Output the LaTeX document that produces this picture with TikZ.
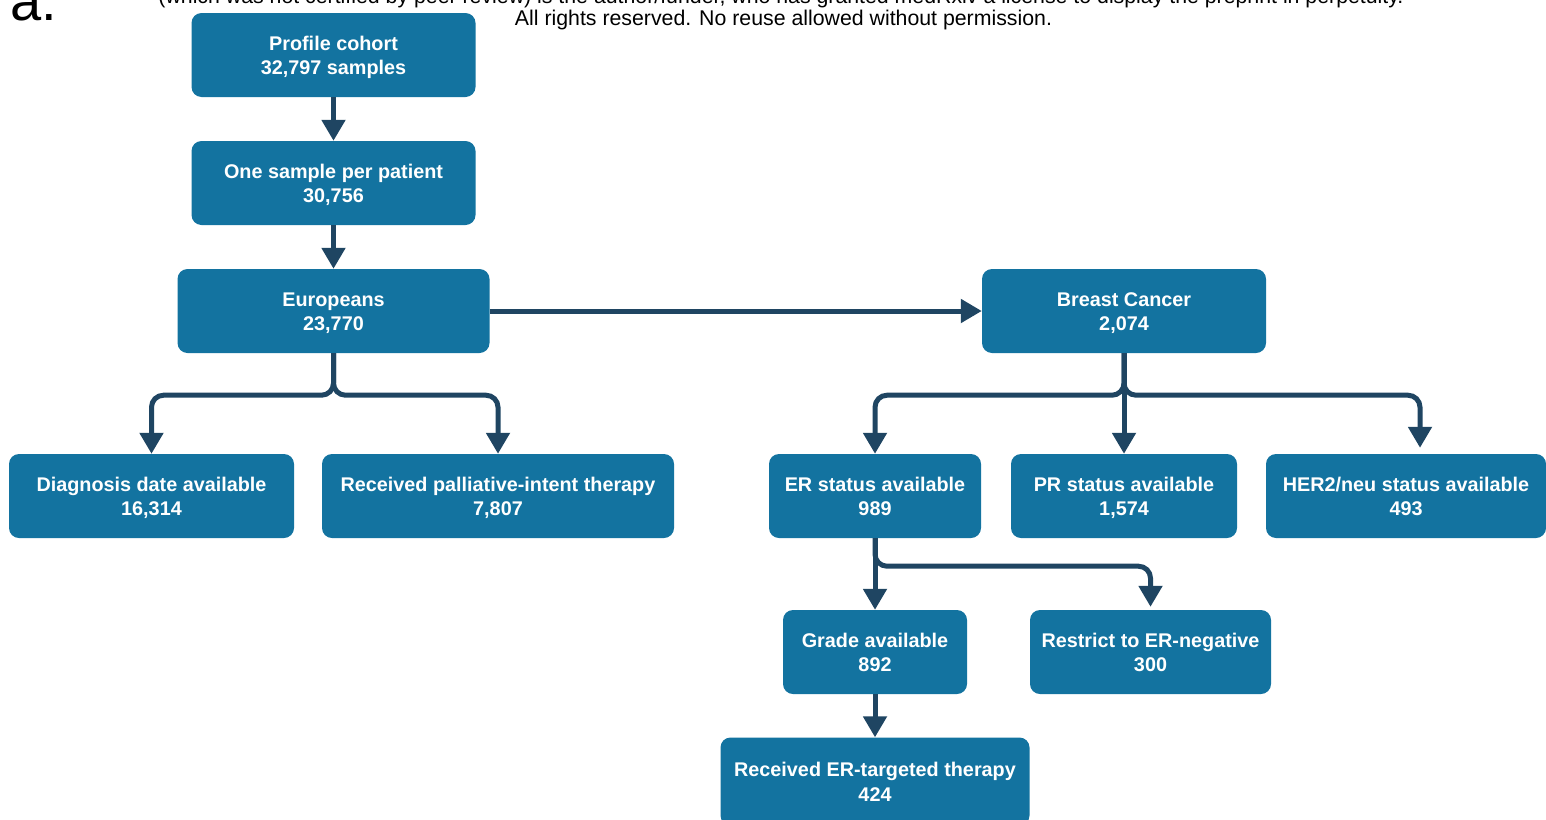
\documentclass[tikz,border=0pt]{standalone}
\usepackage{fontspec}
\setmainfont{Liberation Sans}
\usetikzlibrary{arrows.meta}
\definecolor{boxblue}{HTML}{1373A0}
\definecolor{linknavy}{HTML}{1F4562}
% two-line box label with struts that fix where its lines sit
\newcommand{\twolines}[2]{\rule{0pt}{19pt}#1\\#2\rule[-4.5pt]{0pt}{4.5pt}}
\begin{document}
\begin{tikzpicture}[x=1pt,y=-1pt,
  stage/.style={fill=boxblue, rounded corners=10pt, text=white,
    font=\fontsize{19.8}{24.5}\selectfont\bfseries, align=center,
    inner sep=0pt, minimum height=84pt},
  flow/.style={draw=linknavy, line width=5pt,
    -{Triangle[width=23pt,length=21pt]}, rounded corners=12pt},
  header/.style={anchor=base, inner sep=0pt, font=\fontsize{21.3}{22}\selectfont},
]
\clip (0,0) rectangle (1546,819);

% banner lines and panel letter
\node[header] (hdrA) at (781,3) {(which was not certified by peer review) is the author/funder, who has granted medRxiv a license to display the preprint in perpetuity.};
\node[header] (hdrB) at (783.5,25) {All rights reserved. No reuse allowed without permission.};
\node[anchor=base west, inner sep=0pt, font=\fontsize{56}{56}\selectfont] (panel) at (10,20) {a.};

% cohort stages
\node[stage, minimum width=284pt] (profile) at (333.5,55) {\twolines{Profile cohort}{32,797 samples}};
\node[stage, minimum width=284pt] (onesample) at (333.5,183) {\twolines{One sample per patient}{30,756}};
\node[stage, minimum width=312pt] (europeans) at (333.5,311) {\twolines{Europeans}{23,770}};
\node[stage, minimum width=284pt] (breast) at (1124,311) {\twolines{Breast Cancer}{2,074}};

\node[stage, minimum width=285pt] (diag) at (151.5,496) {\twolines{Diagnosis date available}{16,314}};
\node[stage, minimum width=352pt] (palliative) at (498,496) {\twolines{Received palliative-intent therapy}{7,807}};
\node[stage, minimum width=212pt] (erstat) at (875,496) {\twolines{ER status available}{989}};
\node[stage, minimum width=226pt] (prstat) at (1124,496) {\twolines{PR status available}{1,574}};
\node[stage, minimum width=280pt] (herstat) at (1406,496) {\twolines{HER2/neu status available}{493}};

\node[stage, minimum width=184pt] (grade) at (875,652) {\twolines{Grade available}{892}};
\node[stage, minimum width=241pt] (erneg) at (1150.5,652) {\twolines{Restrict to ER-negative}{300}};
\node[stage, minimum width=309pt, minimum height=88pt] (ertherapy) at (875,781.5) {\twolines{Received ER-targeted therapy}{424}};

% connectors
\draw[flow] (profile) -- (onesample);
\draw[flow] (onesample) -- (europeans);
\draw[flow] (europeans) -- (breast);

\draw[flow] (europeans.south) -- ++(0,42) -| (diag.north);
\draw[flow] (europeans.south) -- ++(0,42) -| (palliative.north);

\draw[flow] (breast.south) -- ++(0,42) -| (erstat.north);
\draw[flow] (breast) -- (prstat);
\draw[flow] (breast.south) -- ++(0,42) -| ([xshift=14pt,yshift=6pt]herstat.north);

\draw[flow] (erstat) -- (grade);
\draw[flow] (erstat.south) -- ++(0,28) -| ([yshift=3pt]erneg.north);
\draw[flow] (grade) -- (ertherapy);
\end{tikzpicture}
\end{document}
